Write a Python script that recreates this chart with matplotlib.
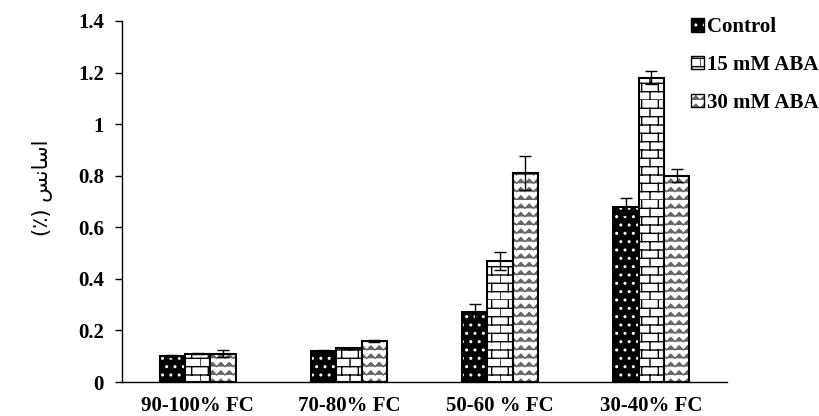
import warnings
import numpy as np
import matplotlib
matplotlib.use("Agg")
import matplotlib.pyplot as plt
from matplotlib import hatch as mhatch
from matplotlib.path import Path
from matplotlib.patches import Patch

warnings.filterwarnings("ignore")

groups = ["90-100% FC", "70-80% FC", "50-60 % FC", "30-40% FC"]
series = ["Control", "15 mM ABA", "30 mM ABA"]
control = [0.10, 0.12, 0.27, 0.68]
aba15 = [0.11, 0.13, 0.47, 1.18]
aba30 = [0.11, 0.16, 0.81, 0.80]
control_err = [0.004, 0.003, 0.034, 0.033]
aba15_err = [0.003, 0.003, 0.034, 0.025]
aba30_err = [0.014, 0.003, 0.065, 0.025]
y_ticks = [0, 0.2, 0.4, 0.6, 0.8, 1, 1.2, 1.4]
y_label = "(\u066a) \ufeb2\ufee7\ufe8e\ufeb3\ufe8d"  # "اسانس (٪)" shaped, visual order


# brick and zigzag hatches, 'b' and 'z' in the hatch string
class Bricks(mhatch.HatchPatternBase):
    rows, cols = 12, 6

    def __init__(self, hatch, density):
        self.on = "b" in hatch
        self.num_vertices = (self.rows + self.rows * self.cols) * 2 if self.on else 0

    def set_vertices_and_codes(self, vertices, codes):
        k = 0
        h = 1.0 / self.rows
        for r in range(self.rows):
            y = r * h
            vertices[k] = (0, y); vertices[k + 1] = (1, y)
            codes[k] = Path.MOVETO; codes[k + 1] = Path.LINETO
            k += 2
            off = 0.5 / self.cols if r % 2 else 0
            for c in range(self.cols):
                x = c / self.cols + off
                vertices[k] = (x, y); vertices[k + 1] = (x, y + h)
                codes[k] = Path.MOVETO; codes[k + 1] = Path.LINETO
                k += 2


class Zigzag(mhatch.HatchPatternBase):
    rows, teeth = 12, 12

    def __init__(self, hatch, density):
        self.on = "z" in hatch
        self.num_vertices = self.rows * (2 * self.teeth + 1) if self.on else 0

    def set_vertices_and_codes(self, vertices, codes):
        k = 0
        h = 1.0 / self.rows
        for r in range(self.rows):
            y = r * h
            for i in range(2 * self.teeth + 1):
                x = i / (2 * self.teeth)
                vertices[k] = (x, y + (0.5 * h if i % 2 else 0))
                codes[k] = Path.MOVETO if i == 0 else Path.LINETO
                k += 1


mhatch._hatch_types.extend([Bricks, Zigzag])

plt.rcParams["font.family"] = ["Liberation Serif", "DejaVu Serif"]
plt.rcParams["font.weight"] = "bold"
plt.rcParams["hatch.linewidth"] = 1.0

fig = plt.figure(figsize=(8.19, 4.16), dpi=100)
ax = fig.add_axes([122 / 819, 34 / 416, 605 / 819, 361 / 416])

x = np.arange(len(groups))
w = 0.167
ekw = dict(ecolor="black", elinewidth=1, capsize=4, capthick=1)

# control: black fill with white dots
with plt.rc_context({"hatch.color": "white"}):
    ax.bar(x - w, control, w, color="black", hatch="..", linewidth=0)
ax.bar(x - w, control, w, facecolor="none", edgecolor="black", linewidth=1.5,
       yerr=control_err, error_kw=ekw)
ax.bar(x, aba15, w, facecolor="white", edgecolor="black", hatch="b", linewidth=1.5,
       yerr=aba15_err, error_kw=ekw)
# 30 mM: grey zigzag on white
with plt.rc_context({"hatch.color": "#666666"}):
    ax.bar(x + w, aba30, w, color="white", hatch="z", linewidth=0)
ax.bar(x + w, aba30, w, facecolor="none", edgecolor="black", linewidth=1.5,
       yerr=aba30_err, error_kw=ekw)

ax.set_xlim(-0.5, 3.5)
ax.set_ylim(0, 1.4)
ax.set_yticks(y_ticks)
ax.set_yticklabels([f"{t:g}" for t in y_ticks])
ax.set_xticks(x)
ax.set_xticklabels(groups)
ax.tick_params(axis="x", length=0, pad=10, labelsize=15)
ax.tick_params(axis="y", length=5, width=1, pad=8, labelsize=15)
for s in ["top", "right"]:
    ax.spines[s].set_visible(False)
ax.spines["left"].set_linewidth(1)
ax.spines["bottom"].set_linewidth(1)

fig.text(42 / 819, 1 - 188 / 416, y_label, family=["DejaVu Sans"], fontsize=15,
         fontweight="normal", rotation=90, ha="center", va="center")

with plt.rc_context({"hatch.color": "white"}):
    h_ctrl = Patch(facecolor="black", hatch="..", linewidth=0)
with plt.rc_context({"hatch.color": "#666666"}):
    h30_f = Patch(facecolor="white", hatch="z", linewidth=0)
h_b = Patch(facecolor="none", edgecolor="black", linewidth=1)
h15 = Patch(facecolor="white", edgecolor="black", hatch="b", linewidth=1)
fig.legend([(h_ctrl, h_b), h15, (h30_f, h_b)], series, loc="upper left",
           bbox_to_anchor=(683 / 819, 1 - 9 / 416), frameon=False,
           prop={"size": 15, "weight": "bold"}, handlelength=0.6, handleheight=0.6,
           handletextpad=0.15, labelspacing=0.85, borderaxespad=0)

fig.savefig("out.png", dpi=100)
